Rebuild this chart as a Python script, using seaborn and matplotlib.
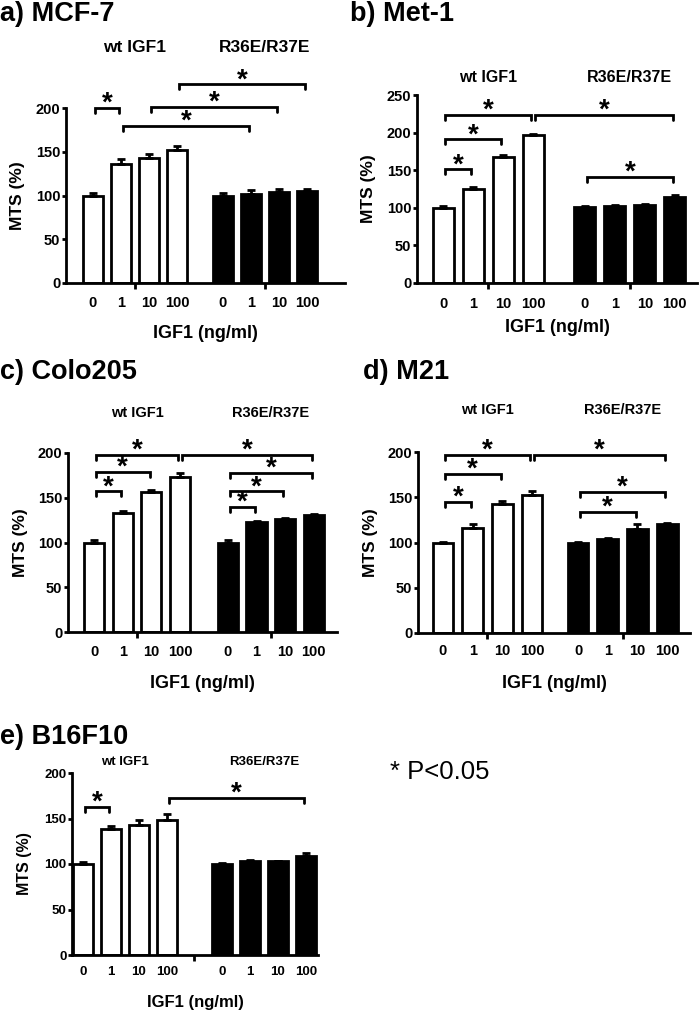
import numpy as np
import pandas as pd
import matplotlib.pyplot as plt
import matplotlib.transforms as mtransforms
import seaborn as sns

sns.set_theme(style="ticks")
plt.rcParams['font.family'] = ['Liberation Sans', 'DejaVu Sans']
plt.rcParams['font.weight'] = 'bold'
plt.rcParams['axes.labelweight'] = 'bold'
for key in ['text.color', 'axes.labelcolor', 'axes.edgecolor', 'xtick.color', 'ytick.color']:
    plt.rcParams[key] = 'black'

####### data ##########
doses = ['0', '1', '10', '100']
groups = ['wt IGF1', 'R36E/R37E']
titles = ['a) MCF-7', 'b) Met-1', 'c) Colo205', 'd) M21', 'e) B16F10']

# MTS (%), wt IGF1 at 0/1/10/100 ng/ml then R36E/R37E at 0/1/10/100 ng/ml
mcf7_mean = [100, 136, 143, 152, 100, 102, 104, 105]
mcf7_err = [3, 6, 5, 5, 3, 4, 3, 3]
met1_mean = [100, 125, 168, 197, 101, 102, 104, 115]
met1_err = [2, 2, 2, 1.5, 1.5, 1.5, 1.5, 1.5]
colo_mean = [100, 133, 156, 173, 100, 123, 126, 131]
colo_err = [3, 2, 3, 4.5, 3, 1, 1, 1]
m21_mean = [100, 116, 142, 152, 100, 104, 115, 120]
m21_err = [1, 4, 4, 5, 1, 1, 5, 1]
b16_mean = [100, 139, 143, 148, 100, 103, 103, 109]
b16_err = [2, 2.5, 5.5, 7, 1.5, 1, 0.5, 3.5]

# significance brackets: (bar i, bar j, height in MTS %)
mcf7_sig = [(0, 1, 200), (1, 5, 180), (2, 6, 201), (3, 7, 227)]
met1_sig = [(0, 1, 151), (0, 2, 191), (0, 3, 223), (3, 7, 223), (4, 7, 141)]
colo_sig = [(0, 1, 157), (0, 2, 179), (0, 3, 198), (3, 7, 198),
            (4, 5, 140), (4, 6, 157), (4, 7, 178)]
m21_sig = [(0, 1, 145), (0, 2, 176), (0, 3, 197), (3, 7, 197),
           (4, 6, 134), (4, 7, 156)]
b16_sig = [(0, 1, 163), (3, 7, 173)]

####### layout (pixels on a 700x1010 canvas) ##########
W, H = 700, 1010
LW = 2.0
panels = [
    dict(mean=mcf7_mean, err=mcf7_err, sig=mcf7_sig, rect=(66, 108, 345, 283), ymax=200,
         gap=4.64, xlim=(-0.96, 9.0), title=(0, 14), glab=47, tick_off=20, xlab_off=51,
         fs_grp=12.5, fs_tick=10.5, fs_lab=12.5),
    dict(mean=met1_mean, err=met1_err, sig=met1_sig, rect=(417, 95, 697, 283), ymax=250,
         gap=4.73, xlim=(-0.87, 8.47), title=(350, 14), glab=77, tick_off=21, xlab_off=45,
         fs_grp=11.5, fs_tick=10.5, fs_lab=12.5),
    dict(mean=colo_mean, err=colo_err, sig=colo_sig, rect=(68, 453, 337, 632), ymax=200,
         gap=4.67, xlim=(-0.91, 8.48), title=(0, 372), glab=413, tick_off=20, xlab_off=51,
         fs_grp=10.5, fs_tick=10.5, fs_lab=12.5),
    dict(mean=m21_mean, err=m21_err, sig=m21_sig, rect=(418, 452, 690, 633), ymax=200,
         gap=4.55, xlim=(-0.84, 8.32), title=(363, 372), glab=410, tick_off=18, xlab_off=50,
         fs_grp=10.5, fs_tick=10.5, fs_lab=12.5),
    dict(mean=b16_mean, err=b16_err, sig=b16_sig, rect=(72, 773, 318, 955), ymax=200,
         gap=4.96, xlim=(-0.39, 8.39), title=(0, 737), glab=762, tick_off=18, xlab_off=47,
         fs_grp=9.5, fs_tick=9.5, fs_lab=11.5),
]

fig = plt.figure(figsize=(W / 100, H / 100), dpi=100)

for k, p in enumerate(panels):
    l, t, r, b = p['rect']
    w_px, h_px = r - l, b - t
    ax = fig.add_axes([l / W, 1 - b / H, w_px / W, h_px / H])

    g = p['gap']
    pos = [0, 1, 2, 3, g, g + 1, g + 2, g + 3]
    df = pd.DataFrame({'pos': pos, 'MTS': p['mean'],
                       'group': [groups[0]] * 4 + [groups[1]] * 4})
    sns.barplot(data=df, x='pos', y='MTS', hue='group', native_scale=True,
                palette={groups[0]: 'white', groups[1]: 'black'}, saturation=1,
                width=0.7, errorbar=None, edgecolor='black', linewidth=LW,
                legend=False, ax=ax)
    # upper error bars only
    ax.errorbar(pos, p['mean'], yerr=[np.zeros(8), p['err']], fmt='none',
                ecolor='black', elinewidth=LW, capsize=3, capthick=LW, zorder=5)

    ax.set_xlim(*p['xlim'])
    ax.set_ylim(0, p['ymax'])
    ax.set_yticks(np.arange(0, p['ymax'] + 1, 50))
    sns.despine(ax=ax)
    for s in ['left', 'bottom']:
        ax.spines[s].set_linewidth(LW)

    # dose labels on the x axis, group-centre ticks as minor ticks
    ax.set_xticks(pos, labels=doses * 2)
    if k == 4:
        ax.set_xticks([(3 + g) / 2], minor=True)
    else:
        ax.set_xticks([1.5, g + 1.5], minor=True)
    ax.tick_params(axis='x', which='major', length=0, labelsize=p['fs_tick'],
                   pad=(p['tick_off'] - 7) * 0.72)
    ax.tick_params(axis='x', which='minor', length=4, width=LW, direction='out')
    ax.tick_params(axis='y', length=3, width=LW, pad=1, labelsize=p['fs_tick'])
    for lab in ax.get_xticklabels() + ax.get_yticklabels():
        lab.set_fontweight('bold')

    ax.set_xlabel('IGF1 (ng/ml)', fontsize=p['fs_lab'] + 0.5, va='center')
    ax.xaxis.set_label_coords(0.5, -p['xlab_off'] / h_px)
    ax.set_ylabel('MTS (%)', fontsize=p['fs_lab'], va='center')
    ax.yaxis.set_label_coords(-48 / w_px, 0.5)

    # group labels above the plot
    tr = mtransforms.blended_transform_factory(ax.transData, fig.transFigure)
    ax.text(1.5, 1 - p['glab'] / H, groups[0], transform=tr, ha='center', va='center',
            fontsize=p['fs_grp'], fontweight='bold')
    ax.text(g + 1.5, 1 - p['glab'] / H, groups[1], transform=tr, ha='center', va='center',
            fontsize=p['fs_grp'], fontweight='bold')

    # panel title
    fig.text(p['title'][0] / W, 1 - p['title'][1] / H, titles[k], ha='left', va='center',
             fontsize=19.5, fontweight='bold')

    # significance brackets
    drop = 5 / h_px * p['ymax']
    for i, j, yb in p['sig']:
        x1, x2 = pos[i] + 0.06, pos[j] - 0.06
        ax.plot([x1, x1, x2, x2], [yb - drop, yb, yb, yb - drop], color='black',
                lw=LW, clip_on=False, solid_joinstyle='miter')
        ax.annotate('*', xy=((x1 + x2) / 2, yb), xytext=(0, -2), textcoords='offset points',
                    ha='center', va='baseline', fontsize=20, fontweight='bold',
                    annotation_clip=False)

fig.text(390 / W, 1 - 772 / H, '* P<0.05', ha='left', va='center', fontsize=18.5,
         fontweight='normal')

fig.savefig('out.png', dpi=100)
